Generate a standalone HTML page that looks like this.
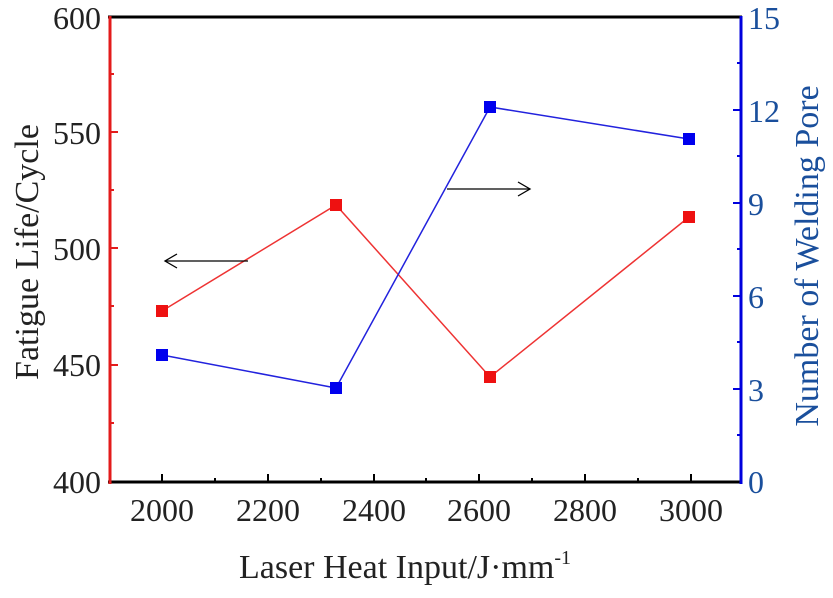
<!DOCTYPE html>
<html><head><style>body{margin:0;background:#fff} svg{font-family:"Liberation Serif",serif}</style></head><body>
<svg width="833" height="593" xmlns="http://www.w3.org/2000/svg">
<rect width="833" height="593" fill="#fff"/>
<g stroke="#000" stroke-width="3">
<line x1="108" y1="17" x2="742" y2="17"/>
<line x1="108" y1="482" x2="742" y2="482"/>
</g>
<line x1="110" y1="16" x2="110" y2="484" stroke="#e31b1b" stroke-width="3"/>
<line x1="741" y1="16" x2="741" y2="484" stroke="#0000dd" stroke-width="3"/>
<g stroke="#e31b1b" stroke-width="2">
<line x1="110" y1="74" x2="114" y2="74"/><line x1="110" y1="132" x2="118" y2="132"/>
<line x1="110" y1="190" x2="114" y2="190"/><line x1="110" y1="248" x2="118" y2="248"/>
<line x1="110" y1="306" x2="114" y2="306"/><line x1="110" y1="365" x2="118" y2="365"/>
<line x1="110" y1="423" x2="114" y2="423"/>
</g>
<g stroke="#0000dd" stroke-width="2">
<line x1="741" y1="63" x2="737" y2="63"/><line x1="741" y1="110" x2="733" y2="110"/>
<line x1="741" y1="156" x2="737" y2="156"/><line x1="741" y1="203" x2="733" y2="203"/>
<line x1="741" y1="249" x2="737" y2="249"/><line x1="741" y1="296" x2="733" y2="296"/>
<line x1="741" y1="342" x2="737" y2="342"/><line x1="741" y1="389" x2="733" y2="389"/>
<line x1="741" y1="435" x2="737" y2="435"/>
</g>
<g stroke="#000" stroke-width="2">
<line x1="162" y1="482" x2="162" y2="474"/><line x1="215" y1="482" x2="215" y2="478"/>
<line x1="268" y1="482" x2="268" y2="474"/><line x1="321" y1="482" x2="321" y2="478"/>
<line x1="374" y1="482" x2="374" y2="474"/><line x1="426" y1="482" x2="426" y2="478"/>
<line x1="479" y1="482" x2="479" y2="474"/><line x1="532" y1="482" x2="532" y2="478"/>
<line x1="585" y1="482" x2="585" y2="474"/><line x1="638" y1="482" x2="638" y2="478"/>
<line x1="691" y1="482" x2="691" y2="474"/>
</g>
<g font-size="32" fill="#222" text-anchor="end">
<text x="101" y="29">600</text><text x="101" y="144">550</text><text x="101" y="260">500</text>
<text x="101" y="376">450</text><text x="101" y="493">400</text>
</g>
<g font-size="32" fill="#1a4f9c" text-anchor="start">
<text x="748" y="29">15</text><text x="748" y="122">12</text><text x="748" y="215">9</text>
<text x="748" y="308">6</text><text x="748" y="401">3</text><text x="748" y="493">0</text>
</g>
<g font-size="32" fill="#222" text-anchor="middle">
<text x="162" y="521">2000</text><text x="268" y="521">2200</text><text x="374" y="521">2400</text>
<text x="479" y="521">2600</text><text x="585" y="521">2800</text><text x="691" y="521">3000</text>
</g>
<text x="405" y="578" font-size="34" fill="#222" text-anchor="middle">Laser Heat Input/J·mm<tspan font-size="20" dy="-14">-1</tspan></text>
<text transform="translate(38,252) rotate(-90)" font-size="34" fill="#222" text-anchor="middle">Fatigue Life/Cycle</text>
<text transform="translate(818,256) rotate(-90)" font-size="34" fill="#1a4f9c" text-anchor="middle">Number of Welding Pore</text>
<polyline points="162,311 336,205 490,377 689,217" fill="none" stroke="#e33" stroke-width="1.5"/>
<polyline points="162,355 336,388 490,107 689,139" fill="none" stroke="#22d" stroke-width="1.5"/>
<g fill="#ee1111">
<rect x="156" y="305" width="12" height="12"/><rect x="330" y="199" width="12" height="12"/>
<rect x="484" y="371" width="12" height="12"/><rect x="683" y="211" width="12" height="12"/>
</g>
<g fill="#0000ee">
<rect x="156" y="349" width="12" height="12"/><rect x="330" y="382" width="12" height="12"/>
<rect x="484" y="101" width="12" height="12"/><rect x="683" y="133" width="12" height="12"/>
</g>
<g stroke="#000" stroke-width="1.3" fill="none">
<line x1="248" y1="261" x2="165" y2="261"/><polyline points="177,254 165,261 177,268"/>
<line x1="447" y1="189" x2="530" y2="189"/><polyline points="518,182 530,189 518,196"/>
</g>
</svg>
</body></html>
